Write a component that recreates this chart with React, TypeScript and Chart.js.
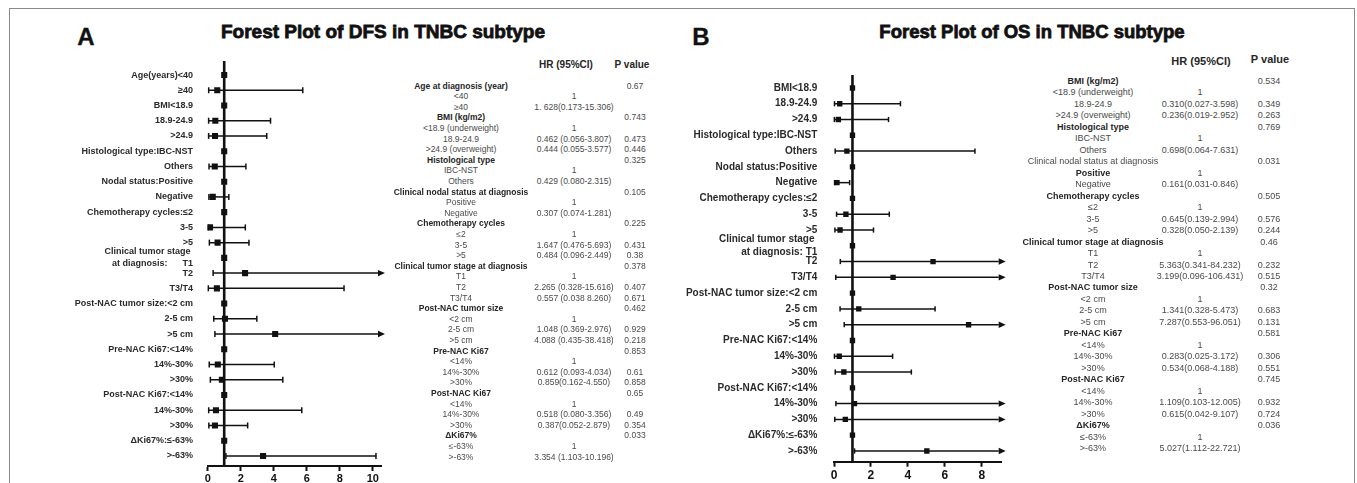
import React, { useEffect, useRef } from 'react';
import { Chart, registerables } from 'chart.js';
Chart.register(...registerables);

const FONT = "'Liberation Sans', Arial, Helvetica, sans-serif";

// ---------------- Panel A : DFS ----------------
const dfsLabels: (string | string[])[] = [
  'Age(years)<40', '≥40', 'BMI<18.9', '18.9-24.9', '>24.9', 'Histological type:IBC-NST', 'Others',
  'Nodal status:Positive', 'Negative', 'Chemotherapy cycles:≤2', '3-5', '>5',
  ['Clinical tumor stage ', 'at diagnosis:      T1'], 'T2', 'T3/T4',
  'Post-NAC tumor size:<2 cm', '2-5 cm', '>5 cm', 'Pre-NAC Ki67:<14%', '14%-30%', '>30%',
  'Post-NAC Ki67:<14%', '14%-30%', '>30%', 'ΔKi67%:≤-63%', '>-63%',
];
const dfsHR = [1, 0.58, 1, 0.462, 0.444, 1, 0.429, 1, 0.307, 1, 0.14, 0.6, 1, 2.265, 0.557, 1, 1.048, 4.088, 1, 0.612, 0.859, 1, 0.5, 0.44, 1, 3.354];
const dfsLow = [null, 0.06, null, 0.056, 0.055, null, 0.08, null, 0.074, null, 0.03, 0.1, null, 0.328, 0.038, null, 0.369, 0.435, null, 0.093, 0.162, null, 0.06, 0.07, null, 1.103];
const dfsHigh = [null, 5.76, null, 3.807, 3.577, null, 2.315, null, 1.281, null, 2.28, 2.5, null, 15.616, 8.26, null, 2.976, 38.418, null, 4.034, 4.55, null, 5.7, 2.42, null, 10.196];
const dfsTicks = [0, 2, 4, 6, 8, 10];

const dfsTableNames = [
  'Age at diagnosis (year)', '<40', '≥40', 'BMI (kg/m2)', '<18.9 (underweight)', '18.9-24.9', '>24.9 (overweight)',
  'Histological type', 'IBC-NST', 'Others', 'Clinical nodal status at diagnosis', 'Positive', 'Negative',
  'Chemotherapy cycles', '≤2', '3-5', '>5', 'Clinical tumor stage at diagnosis', 'T1', 'T2', 'T3/T4',
  'Post-NAC tumor size', '<2 cm', '2-5 cm', '>5 cm', 'Pre-NAC Ki67', '<14%', '14%-30%', '>30%',
  'Post-NAC Ki67', '<14%', '14%-30%', '>30%', 'ΔKi67%', '≤-63%', '>-63%',
];
const dfsTableKinds = ['h', 'i', 'i', 'h', 'i', 'i', 'i', 'h', 'i', 'i', 'h', 'i', 'i', 'h', 'i', 'i', 'i', 'h', 'i', 'i', 'i', 'h', 'i', 'i', 'i', 'h', 'i', 'i', 'i', 'h', 'i', 'i', 'i', 'h', 'i', 'i'];
const dfsTableHR = [
  '', '1', '1. 628(0.173-15.306)', '', '1', '0.462 (0.056-3.807)', '0.444 (0.055-3.577)',
  '', '1', '0.429 (0.080-2.315)', '', '1', '0.307 (0.074-1.281)',
  '', '1', '1.647 (0.476-5.693)', '0.484 (0.096-2.449)', '', '1', '2.265 (0.328-15.616)', '0.557 (0.038 8.260)',
  '', '1', '1.048 (0.369-2.976)', '4.088 (0.435-38.418)', '', '1', '0.612 (0.093-4.034)', '0.859(0.162-4.550)',
  '', '1', '0.518 (0.080-3.356)', '0.387(0.052-2.879)', '', '1', '3.354 (1.103-10.196)',
];
const dfsTableP = [
  '0.67', '', '', '0.743', '', '0.473', '0.446', '0.325', '', '', '0.105', '', '',
  '0.225', '', '0.431', '0.38', '0.378', '', '0.407', '0.671', '0.462', '', '0.929', '0.218',
  '0.853', '', '0.61', '0.858', '0.65', '', '0.49', '0.354', '0.033', '', '',
];

// ---------------- Panel B : OS ----------------
const osLabels: (string | string[])[] = [
  'BMI<18.9', '18.9-24.9', '>24.9', 'Histological type:IBC-NST', 'Others', 'Nodal status:Positive', 'Negative',
  'Chemotherapy cycles:≤2', '3-5', '>5', ['Clinical tumor stage ', 'at diagnosis: T1'], 'T2', 'T3/T4',
  'Post-NAC tumor size:<2 cm', '2-5 cm', '>5 cm', 'Pre-NAC Ki67:<14%', '14%-30%', '>30%',
  'Post-NAC Ki67:<14%', '14%-30%', '>30%', 'ΔKi67%:≤-63%', '>-63%',
];
const osHR = [1, 0.310, 0.236, 1, 0.698, 1, 0.161, 1, 0.645, 0.328, 1, 5.363, 3.199, 1, 1.341, 7.287, 1, 0.283, 0.534, 1, 1.109, 0.615, 1, 5.027];
const osLow = [null, 0.027, 0.019, null, 0.064, null, 0.031, null, 0.139, 0.050, null, 0.341, 0.096, null, 0.328, 0.553, null, 0.025, 0.068, null, 0.103, 0.042, null, 1.112];
const osHigh = [null, 3.598, 2.952, null, 7.631, null, 0.846, null, 2.994, 2.139, null, 84.232, 106.431, null, 5.473, 96.051, null, 3.172, 4.188, null, 12.005, 9.107, null, 22.721];
const osTicks = [0, 2, 4, 6, 8];

const osTableNames = [
  'BMI (kg/m2)', '<18.9 (underweight)', '18.9-24.9', '>24.9 (overweight)', 'Histological type', 'IBC-NST', 'Others',
  'Clinical nodal status at diagnosis', 'Positive', 'Negative', 'Chemotherapy cycles', '≤2', '3-5', '>5',
  'Clinical tumor stage at diagnosis', 'T1', 'T2', 'T3/T4', 'Post-NAC tumor size', '<2 cm', '2-5 cm', '>5 cm',
  'Pre-NAC Ki67', '<14%', '14%-30%', '>30%', 'Post-NAC Ki67', '<14%', '14%-30%', '>30%', 'ΔKi67%', '≤-63%', '>-63%',
];
const osTableKinds = ['h', 'i', 'i', 'i', 'h', 'i', 'i', 'h', 'i', 'i', 'h', 'i', 'i', 'i', 'h', 'i', 'i', 'i', 'h', 'i', 'i', 'i', 'h', 'i', 'i', 'i', 'h', 'i', 'i', 'i', 'h', 'i', 'i'];
const osTableHR = [
  '', '1', '0.310(0.027-3.598)', '0.236(0.019-2.952)', '', '1', '0.698(0.064-7.631)',
  '', '1', '0.161(0.031-0.846)', '', '1', '0.645(0.139-2.994)', '0.328(0.050-2.139)',
  '', '1', '5.363(0.341-84.232)', '3.199(0.096-106.431)', '', '1', '1.341(0.328-5.473)', '7.287(0.553-96.051)',
  '', '1', '0.283(0.025-3.172)', '0.534(0.068-4.188)', '', '1', '1.109(0.103-12.005)', '0.615(0.042-9.107)',
  '', '1', '5.027(1.112-22.721)',
];
const osTableP = [
  '0.534', '', '0.349', '0.263', '0.769', '', '', '0.031', '', '', '0.505', '', '0.576', '0.244',
  '0.46', '', '0.232', '0.515', '0.32', '', '0.683', '0.131', '0.581', '', '0.306', '0.551',
  '0.745', '', '0.932', '0.724', '0.036', '', '',
];

type ForestProps = {
  labels: (string | string[])[];
  hr: number[];
  low: (number | null)[];
  high: (number | null)[];
  ticks: number[];
  xMax: number;
  yMin: number;
  yMax: number;
  left: number;
  top: number;
  width: number;
  height: number;
  yAxisWidth: number;
  xAxisHeight: number;
  padTop: number;
  padRight: number;
  labelSize: number;
  labelPad: number;
  tickSize: number;
  tickPad: number;
  markerRadius: number;
  cap: number;
};

function ForestChart(p: ForestProps) {
  const ref = useRef<HTMLCanvasElement | null>(null);
  useEffect(() => {
    if (!ref.current) return;
    const plugin = {
      id: 'forestWhiskers',
      beforeDatasetsDraw(chart: any) {
        const { ctx, chartArea, scales } = chart;
        const xs = scales.x;
        const ys = scales.y;
        ctx.save();
        ctx.strokeStyle = '#111';
        ctx.fillStyle = '#111';
        ctx.lineWidth = 1.5;
        p.hr.forEach((_, i) => {
          const lo = p.low[i];
          const hi = p.high[i];
          if (lo == null || hi == null) return;
          const py = ys.getPixelForValue(i);
          const x1 = xs.getPixelForValue(lo);
          const clipped = hi > xs.max;
          const tip = chartArea.right + 4;
          const x2 = clipped ? tip - 7 : xs.getPixelForValue(hi);
          ctx.beginPath();
          ctx.moveTo(x1, py);
          ctx.lineTo(x2, py);
          ctx.stroke();
          ctx.beginPath();
          ctx.moveTo(x1, py - p.cap);
          ctx.lineTo(x1, py + p.cap);
          ctx.stroke();
          if (clipped) {
            ctx.beginPath();
            ctx.moveTo(tip, py);
            ctx.lineTo(x2, py - 3.2);
            ctx.lineTo(x2, py + 3.2);
            ctx.closePath();
            ctx.fill();
          } else {
            ctx.beginPath();
            ctx.moveTo(x2, py - p.cap);
            ctx.lineTo(x2, py + p.cap);
            ctx.stroke();
          }
        });
        const zx = xs.getPixelForValue(1);
        ctx.lineWidth = 2.6;
        ctx.beginPath();
        ctx.moveTo(zx, chartArea.top);
        ctx.lineTo(zx, chartArea.bottom);
        ctx.stroke();
        ctx.restore();
      },
    };
    const chart = new Chart(ref.current, {
      type: 'scatter',
      data: {
        datasets: [
          {
            data: p.hr.map((v, i) => ({ x: v, y: i })),
            pointStyle: 'rect',
            pointRadius: p.markerRadius,
            pointHoverRadius: p.markerRadius,
            backgroundColor: '#111',
            borderColor: '#111',
            borderWidth: 0,
            showLine: false,
          } as any,
        ],
      },
      options: {
        animation: false,
        responsive: false,
        events: [],
        layout: { padding: { top: p.padTop, right: p.padRight, bottom: 0, left: 0 } },
        plugins: { legend: { display: false }, tooltip: { enabled: false } },
        scales: {
          x: {
            type: 'linear',
            min: 0,
            max: p.xMax,
            afterBuildTicks: (ax: any) => {
              ax.ticks = p.ticks.map((v) => ({ value: v }));
            },
            afterFit: (ax: any) => {
              ax.height = p.xAxisHeight;
              ax.paddingLeft = 0;
              ax.paddingRight = 0;
            },
            grid: { display: true, drawOnChartArea: false, drawTicks: true, tickLength: 5, tickColor: '#111', tickWidth: 2 },
            border: { display: true, color: '#111', width: 2 },
            ticks: {
              autoSkip: false,
              maxRotation: 0,
              padding: p.tickPad,
              color: '#111',
              font: { family: FONT, size: p.tickSize, weight: 'bold' },
            },
          },
          y: {
            type: 'linear',
            reverse: true,
            min: p.yMin,
            max: p.yMax,
            afterBuildTicks: (ax: any) => {
              ax.ticks = p.labels.map((_, i) => ({ value: i }));
            },
            afterFit: (ax: any) => {
              ax.width = p.yAxisWidth;
              ax.paddingTop = 0;
              ax.paddingBottom = 0;
            },
            grid: { display: false, drawTicks: false },
            border: { display: false },
            ticks: {
              autoSkip: false,
              padding: p.labelPad,
              color: '#2a2a2a',
              font: { family: FONT, size: p.labelSize, weight: 'bold', lineHeight: 1.3 },
              callback: (v: any) => p.labels[Math.round(Number(v))] ?? '',
            },
          },
        },
      } as any,
      plugins: [plugin],
    });
    return () => chart.destroy();
  }, []);
  return (
    <canvas
      ref={ref}
      width={p.width}
      height={p.height}
      style={{ position: 'absolute', left: p.left, top: p.top, width: p.width, height: p.height }}
    />
  );
}

function Txt(props: { x: number; y: number; size: number; bold?: boolean; color?: string; children: React.ReactNode; stroke?: number }) {
  const { x, y, size, bold, color, children, stroke } = props;
  const lh = Math.round(size * 1.3);
  return (
    <div
      style={{
        position: 'absolute',
        left: x,
        top: y - lh / 2,
        fontSize: size,
        lineHeight: `${lh}px`,
        fontWeight: bold ? 700 : 400,
        color: color || '#222',
        whiteSpace: 'pre',
        transform: 'translateX(-50%)',
        fontFamily: FONT,
        WebkitTextStroke: stroke ? `${stroke}px ${color || '#111'}` : undefined,
      } as any}
    >
      {children}
    </div>
  );
}

function Table(props: {
  names: string[]; kinds: string[]; hr: string[]; pv: string[];
  y0: number; dy: number; cName: number; cHR: number; cP: number; size: number;
  boldOverride?: number[]; regularOverride?: number[];
}) {
  const { names, kinds, hr, pv, y0, dy, cName, cHR, cP, size } = props;
  return (
    <>
      {names.map((n, i) => {
        let bold = kinds[i] === 'h';
        if (props.boldOverride && props.boldOverride.includes(i)) bold = true;
        if (props.regularOverride && props.regularOverride.includes(i)) bold = false;
        const y = y0 + i * dy;
        return (
          <React.Fragment key={i}>
            <Txt x={cName} y={y} size={size} bold={bold} color={bold ? '#262626' : '#4a4a4a'}>{n}</Txt>
            {hr[i] ? <Txt x={cHR} y={y} size={size} color="#4a4a4a">{hr[i]}</Txt> : null}
            {pv[i] ? <Txt x={cP} y={y} size={size} color="#4a4a4a">{pv[i]}</Txt> : null}
          </React.Fragment>
        );
      })}
    </>
  );
}

export default function App() {
  return (
    <div style={{ position: 'absolute', left: 0, top: 0, width: 1357, height: 483, background: '#fff', overflow: 'hidden' }}>
      <div style={{ position: 'absolute', left: 9, top: 8, width: 1344, height: 480, borderTop: '1.5px solid #8a8a8a', borderLeft: '1.5px solid #8a8a8a', borderRight: '1.5px solid #8a8a8a' }} />

      <Txt x={86} y={36} size={24} bold color="#111" stroke={0.3}>A</Txt>
      <Txt x={383} y={31} size={19} bold color="#111" stroke={0.8}>Forest Plot of DFS in TNBC subtype</Txt>
      <Txt x={701} y={36} size={24} bold color="#111" stroke={0.3}>B</Txt>
      <Txt x={1032} y={32} size={18.5} bold color="#111" stroke={0.8}>Forest Plot of OS in TNBC subtype</Txt>

      <ForestChart
        labels={dfsLabels} hr={dfsHR} low={dfsLow} high={dfsHigh} ticks={dfsTicks}
        xMax={10.5} yMin={-0.92} yMax={25.66}
        left={10} top={50} width={400} height={433}
        yAxisWidth={197.7} xAxisHeight={17} padTop={11} padRight={29}
        labelSize={9} labelPad={14.7} tickSize={11} tickPad={1} markerRadius={4.3} cap={3}
      />
      <ForestChart
        labels={osLabels} hr={osHR} low={osLow} high={osHigh} ticks={osTicks}
        xMax={9.08} yMin={-0.82} yMax={23.68}
        left={680} top={50} width={360} height={433}
        yAxisWidth={154} xAxisHeight={21.3} padTop={25} padRight={38.3}
        labelSize={10} labelPad={16.7} tickSize={12} tickPad={2} markerRadius={3.8} cap={2.6}
      />

      <Txt x={566} y={64} size={10} bold color="#262626">HR (95%CI)</Txt>
      <Txt x={632} y={64} size={10} bold color="#262626">P value</Txt>
      <Table names={dfsTableNames} kinds={dfsTableKinds} hr={dfsTableHR} pv={dfsTableP}
        y0={86} dy={10.6} cName={461} cHR={574} cP={635} size={8.5} />

      <Txt x={1201} y={61} size={11} bold color="#262626">HR (95%CI)</Txt>
      <Txt x={1270} y={59} size={11} bold color="#262626">P value</Txt>
      <Table names={osTableNames} kinds={osTableKinds} hr={osTableHR} pv={osTableP}
        y0={81} dy={11.47} cName={1093} cHR={1200} cP={1269} size={9}
        boldOverride={[8]} regularOverride={[7]} />
    </div>
  );
}
